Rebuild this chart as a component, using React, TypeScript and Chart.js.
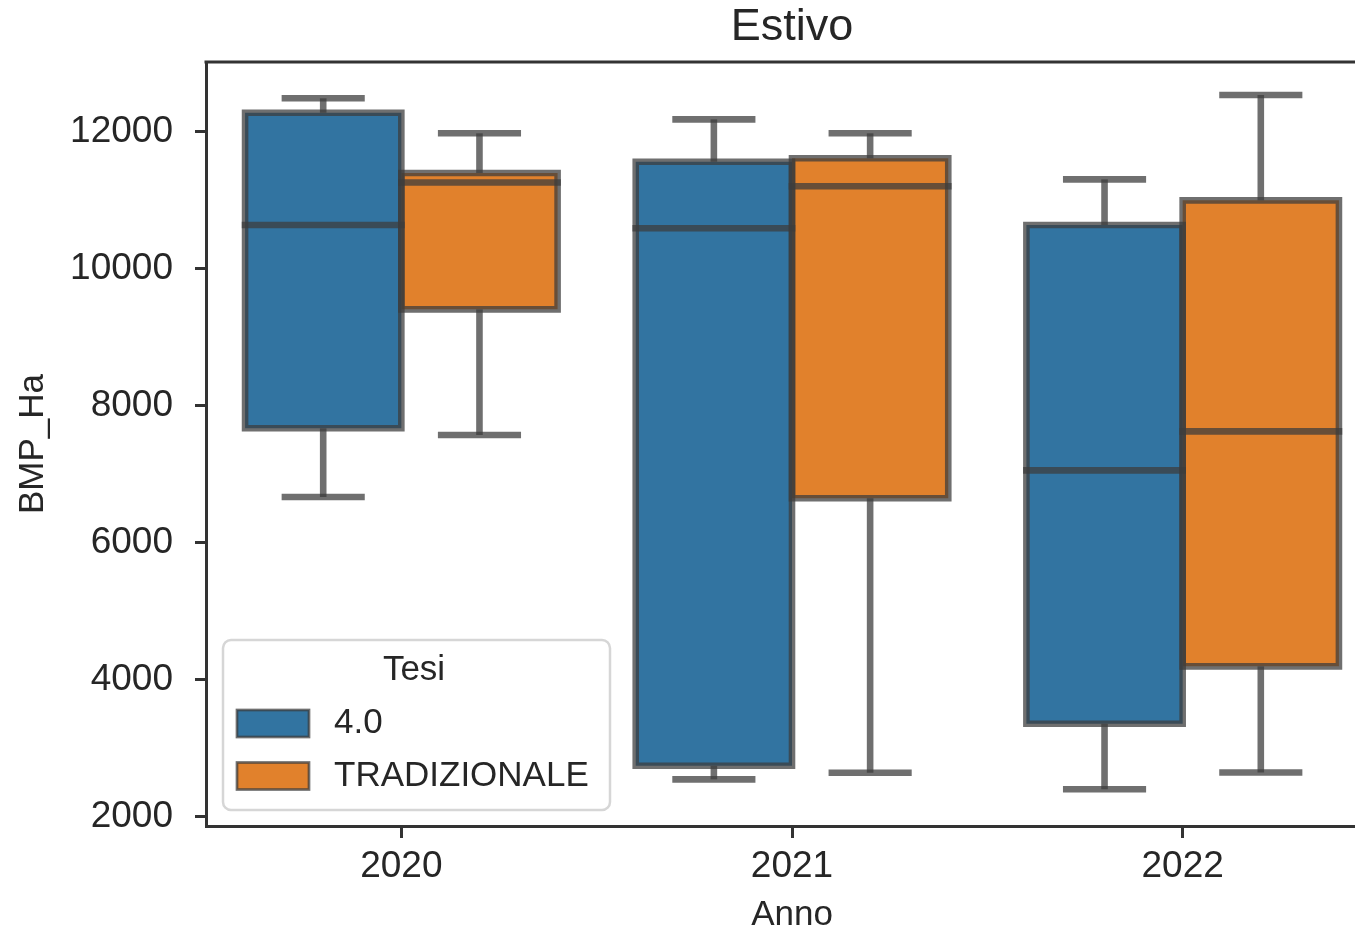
import React, { useEffect, useRef } from 'react';
import { Chart, registerables } from 'chart.js';

Chart.register(...registerables);

// ---- data ----
const years = ['2020', '2021', '2022'];
const seriesNames = ['4.0', 'TRADIZIONALE'];
const seriesColors = ['#3274a1', '#e1812c'];

const low40 = [6667, 2545, 2400];
const q1_40 = [7670, 2744, 3357];
const median40 = [10638, 10590, 7056];
const q3_40 = [12277, 11562, 10638];
const high40 = [12488, 12181, 11305];

const lowTrad = [7572, 2641, 2645];
const q1Trad = [9407, 6648, 4195];
const medianTrad = [11258, 11203, 7626];
const q3Trad = [11397, 11612, 10998];
const highTrad = [11977, 11977, 12536];

const yTicks = [2000, 4000, 6000, 8000, 10000, 12000];
const yMin = 1864;
const yMax = 13018;

const titleText = 'Estivo';
const xTitle = 'Anno';
const yTitle = 'BMP_Ha';
const legendTitle = 'Tesi';

const stats = [
  { low: low40, q1: q1_40, med: median40, q3: q3_40, high: high40 },
  { low: lowTrad, q1: q1Trad, med: medianTrad, q3: q3Trad, high: highTrad },
];

const FONT = "'Liberation Sans', Arial, sans-serif";
const TEXT = '#262626';
const SPINE = '#333333';
const LINE = 'rgba(61,61,61,0.74)';
const LW = 6.6;

const boxWhiskerPlugin = {
  id: 'boxWhisker',
  afterDatasetsDraw(chart: any) {
    const ctx = chart.ctx;
    const ys = chart.scales.y;
    const ca = chart.chartArea;
    ctx.save();
    ctx.beginPath();
    ctx.rect(ca.left, ca.top, ca.right - ca.left, ca.bottom - ca.top);
    ctx.clip();
    ctx.strokeStyle = LINE;
    ctx.lineWidth = LW;
    ctx.lineCap = 'butt';
    ctx.lineJoin = 'miter';
    const seg = (x1: number, y1: number, x2: number, y2: number) => {
      ctx.beginPath();
      ctx.moveTo(x1, y1);
      ctx.lineTo(x2, y2);
      ctx.stroke();
    };
    chart.data.datasets.forEach((_ds: any, di: number) => {
      const meta = chart.getDatasetMeta(di);
      const s = stats[di];
      meta.data.forEach((el: any, i: number) => {
        const x = el.x;
        const w = el.width;
        const l = x - w / 2;
        const r = x + w / 2;
        const pLow = ys.getPixelForValue(s.low[i]);
        const pQ1 = ys.getPixelForValue(s.q1[i]);
        const pMed = ys.getPixelForValue(s.med[i]);
        const pQ3 = ys.getPixelForValue(s.q3[i]);
        const pHigh = ys.getPixelForValue(s.high[i]);
        // box outline
        ctx.beginPath();
        ctx.rect(l, pQ3, w, pQ1 - pQ3);
        ctx.stroke();
        // whiskers
        seg(x, pQ1, x, pLow);
        seg(x, pQ3, x, pHigh);
        // caps
        const ch = w / 4 + 2.5;
        seg(x - ch, pLow, x + ch, pLow);
        seg(x - ch, pHigh, x + ch, pHigh);
        // median
        seg(l - LW / 2, pMed, r + LW / 2, pMed);
      });
    });
    ctx.restore();
  },
  afterDraw(chart: any) {
    const ctx = chart.ctx;
    const ca = chart.chartArea;
    ctx.save();
    // top spine
    ctx.strokeStyle = SPINE;
    ctx.lineWidth = 3;
    ctx.beginPath();
    ctx.moveTo(ca.left - 1.5, ca.top);
    ctx.lineTo(ca.right, ca.top);
    ctx.stroke();

    // legend
    const bx = ca.left + 17;
    const bw = 387;
    const bh = 170;
    const by = ca.bottom - 16 - bh;
    const rad = 8;
    ctx.beginPath();
    ctx.moveTo(bx + rad, by);
    ctx.lineTo(bx + bw - rad, by);
    ctx.arcTo(bx + bw, by, bx + bw, by + rad, rad);
    ctx.lineTo(bx + bw, by + bh - rad);
    ctx.arcTo(bx + bw, by + bh, bx + bw - rad, by + bh, rad);
    ctx.lineTo(bx + rad, by + bh);
    ctx.arcTo(bx, by + bh, bx, by + bh - rad, rad);
    ctx.lineTo(bx, by + rad);
    ctx.arcTo(bx, by, bx + rad, by, rad);
    ctx.closePath();
    ctx.fillStyle = 'rgba(255,255,255,0.8)';
    ctx.fill();
    ctx.strokeStyle = '#d6d6d6';
    ctx.lineWidth = 2.5;
    ctx.stroke();

    ctx.fillStyle = TEXT;
    ctx.font = `35px ${FONT}`;
    ctx.textBaseline = 'middle';
    ctx.textAlign = 'center';
    ctx.fillText(legendTitle, bx + 191, by + 30);
    ctx.textAlign = 'left';
    seriesNames.forEach((name, i) => {
      const cy = by + 83.5 + i * 52.5;
      ctx.fillStyle = seriesColors[i];
      ctx.fillRect(bx + 14, cy - 13.5, 72, 27);
      ctx.strokeStyle = LINE;
      ctx.lineWidth = 2.7;
      ctx.strokeRect(bx + 14, cy - 13.5, 72, 27);
      ctx.fillStyle = TEXT;
      ctx.fillText(name, bx + 111, cy);
    });
    ctx.restore();
  },
};

export default function App() {
  const ref = useRef<HTMLCanvasElement | null>(null);
  useEffect(() => {
    if (!ref.current) return;
    const chart = new Chart(ref.current, {
      type: 'bar',
      data: {
        labels: years,
        datasets: seriesNames.map((name, di) => ({
          label: name,
          data: years.map((_, i) => [stats[di].q1[i], stats[di].q3[i]]),
          backgroundColor: seriesColors[di],
          borderWidth: 0,
          inflateAmount: 0,
          categoryPercentage: 0.8,
          barPercentage: 1.0,
        })) as any,
      },
      options: {
        responsive: false,
        animation: false,
        devicePixelRatio: 1,
        layout: { padding: 0 },
        plugins: {
          legend: { display: false },
          tooltip: { enabled: false },
          title: {
            display: true,
            text: titleText,
            fullSize: false,
            color: TEXT,
            font: { family: FONT, size: 45, weight: 'normal', lineHeight: 1 },
            padding: { top: 5.5, bottom: 11.5 },
          },
        },
        scales: {
          x: {
            type: 'category',
            offset: true,
            grid: {
              display: true,
              offset: false,
              drawOnChartArea: false,
              drawTicks: true,
              tickLength: 12,
              tickWidth: 3,
              tickColor: SPINE,
            },
            border: { display: true, color: SPINE, width: 3 },
            ticks: {
              color: TEXT,
              padding: 7,
              font: { family: FONT, size: 37 },
              maxRotation: 0,
            },
            title: {
              display: true,
              text: xTitle,
              color: TEXT,
              font: { family: FONT, size: 35, lineHeight: 1 },
              padding: { top: 0, bottom: 0 },
            },
            afterFit: (scale: any) => {
              scale.height = 107;
            },
          },
          y: {
            type: 'linear',
            min: yMin,
            max: yMax,
            grid: {
              display: true,
              drawOnChartArea: false,
              drawTicks: true,
              tickLength: 11,
              tickWidth: 3,
              tickColor: SPINE,
            },
            border: { display: true, color: SPINE, width: 3 },
            ticks: {
              color: TEXT,
              padding: 22,
              font: { family: FONT, size: 37 },
              callback: (v: any) => String(v),
            },
            afterBuildTicks: (scale: any) => {
              scale.ticks = yTicks.map((v) => ({ value: v }));
            },
            title: {
              display: true,
              text: yTitle,
              color: TEXT,
              font: { family: FONT, size: 35, lineHeight: 1 },
              padding: { top: 15.5, bottom: 0 },
            },
            afterFit: (scale: any) => {
              scale.width = 206;
            },
          },
        },
      } as any,
      plugins: [boxWhiskerPlugin],
    });
    return () => chart.destroy();
  }, []);

  return (
    <div
      style={{
        position: 'absolute',
        left: 0,
        top: 0,
        width: 1355,
        height: 933,
        overflow: 'hidden',
        background: '#ffffff',
      }}
    >
      <canvas ref={ref} width={1378} height={933} style={{ display: 'block' }} />
    </div>
  );
}
